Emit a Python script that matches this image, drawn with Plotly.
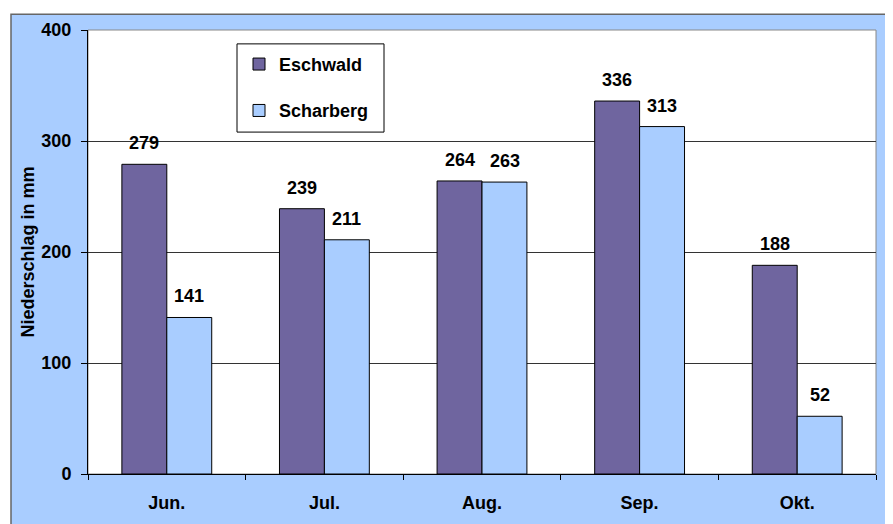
import plotly.graph_objects as go

months = ["Jun.", "Jul.", "Aug.", "Sep.", "Okt."]
eschwald = [279, 239, 264, 336, 188]
scharberg = [141, 211, 263, 313, 52]
y_ticks = [0, 100, 200, 300, 400]

purple = "#6F659F"
lightblue = "#A9CDFF"
font_family = "Liberation Sans, Arial, sans-serif"
label_font = dict(family=font_family, size=18, color="#000", weight="bold")

fig = go.Figure()
fig.add_trace(go.Bar(
    x=months, y=eschwald, name="Eschwald",
    marker=dict(color=purple, line=dict(color="#000000", width=1)),
    legendgroup="a",
))
fig.add_trace(go.Bar(
    x=months, y=scharberg, name="Scharberg",
    marker=dict(color=lightblue, line=dict(color="#000000", width=1)),
    legendgroup="b",
))

# page has an 8px body margin; positions below are page pixels
OFF = 8
W, H = 893, 524
L, T = 88 - OFF, 26 - OFF
R = W - (876 - OFF)
B = H - (474 - OFF)
pw, ph = W - L - R, H - T - B


def px_x(px):
    return (px - OFF - L) / pw


def px_y(py):
    return (H - B - (py - OFF)) / ph


# value labels above each bar, placed by the axes
annotations = []
half = 22.5
for series, shift in ((eschwald, -half), (scharberg, half)):
    for m, v in zip(months, series):
        annotations.append(dict(
            x=m, y=v, xref="x", yref="y", text=str(v), showarrow=False,
            xshift=shift, yanchor="bottom", yshift=9, font=label_font,
        ))

fig.update_layout(
    width=W, height=H,
    margin=dict(l=L, r=R, t=T, b=B),
    paper_bgcolor=lightblue,
    plot_bgcolor="white",
    barmode="group",
    bargap=0.43,
    bargroupgap=0,
    font=dict(family=font_family, size=18, color="#000"),
    showlegend=True,
    legend=dict(
        x=px_x(239), y=px_y(42), xanchor="left", yanchor="top",
        bgcolor="rgba(0,0,0,0)", borderwidth=0,
        tracegroupgap=20, traceorder="grouped",
        font=dict(family=font_family, size=18, color="#000", weight="bold"),
    ),
    xaxis=dict(
        showline=True, linecolor="#000", linewidth=1,
        ticks="outside", tickson="boundaries", ticklen=5, tickcolor="#000",
        tickfont=dict(family=font_family, size=18, weight="bold"),
        ticklabelstandoff=12,
        showgrid=False,
    ),
    yaxis=dict(
        range=[0, 400], tickvals=y_ticks,
        showline=True, linecolor="#000", linewidth=1,
        ticks="outside", ticklen=6, tickcolor="#000",
        tickfont=dict(family=font_family, size=18, weight="bold"),
        ticklabelstandoff=6,
        showgrid=True, gridcolor="#333", gridwidth=1,
        zeroline=False,
        title=dict(text="Niederschlag in mm", standoff=2,
                   font=dict(family=font_family, size=18, weight="bold")),
    ),
    annotations=annotations,
    shapes=[
        dict(type="rect", xref="paper", yref="paper", layer="below",
             x0=px_x(-20), x1=px_x(11), y0=px_y(560), y1=px_y(-20),
             fillcolor="white", line=dict(width=0)),
        dict(type="rect", xref="paper", yref="paper", layer="below",
             x0=px_x(-20), x1=px_x(920), y0=px_y(10), y1=px_y(-20),
             fillcolor="white", line=dict(width=0)),
        dict(type="rect", xref="paper", yref="paper", layer="below",
             x0=px_x(11), x1=px_x(890), y0=px_y(560), y1=px_y(10),
             fillcolor="rgba(0,0,0,0)", line=dict(color="#666", width=1.5)),
        dict(type="rect", xref="paper", yref="paper", layer="below",
             x0=0, x1=1, y0=0, y1=1,
             fillcolor="rgba(0,0,0,0)", line=dict(color="#888", width=1)),
        dict(type="rect", xref="paper", yref="paper", layer="above",
             x0=px_x(237), x1=px_x(384), y0=px_y(129), y1=px_y(40),
             fillcolor="rgba(0,0,0,0)", line=dict(color="#000", width=1)),
    ],
)

fig.write_html("out.html")
